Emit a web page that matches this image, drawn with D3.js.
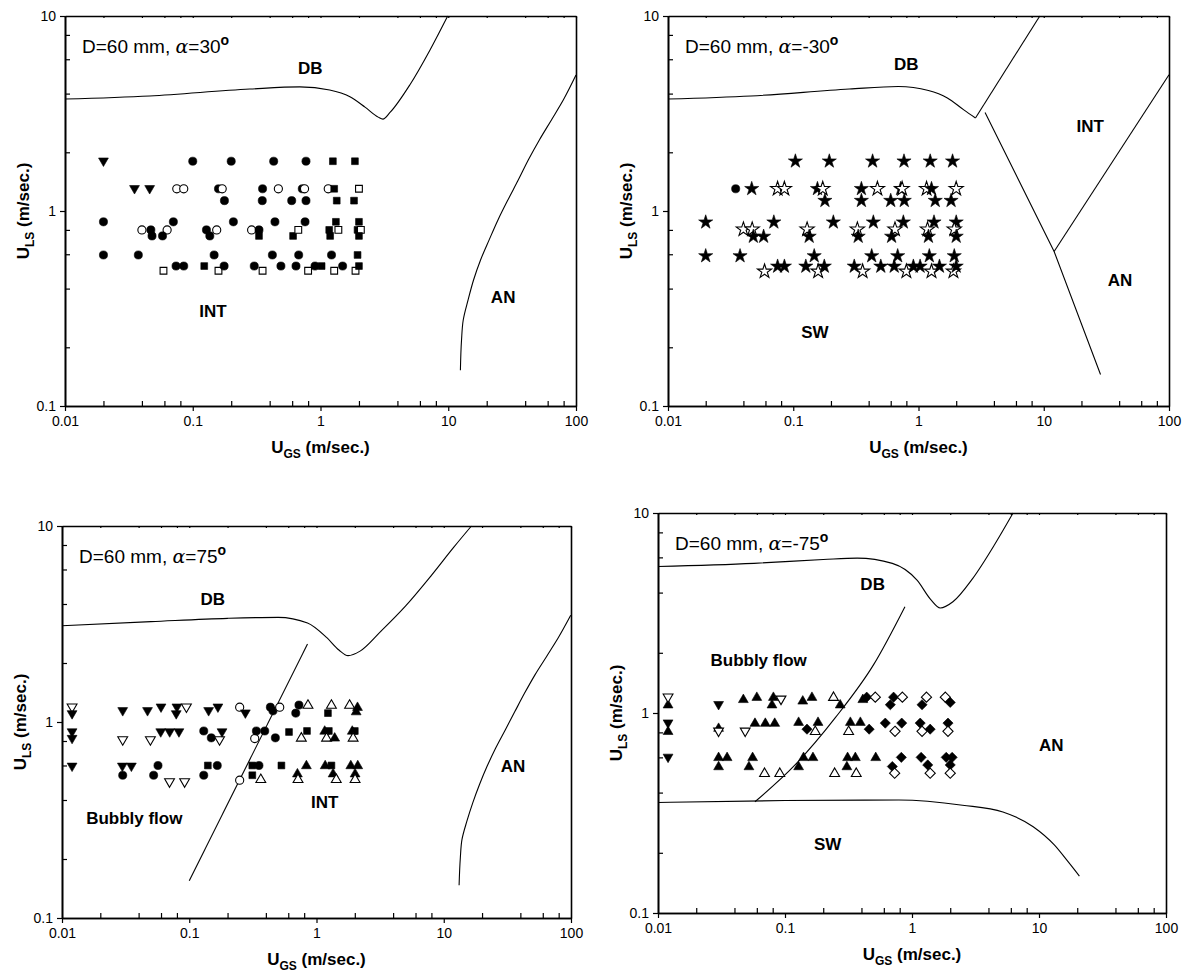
<!DOCTYPE html>
<html><head><meta charset="utf-8">
<script src="https://cdn.jsdelivr.net/npm/d3@7"></script>
<style>
body{margin:0;background:#fff}
svg{display:block}
text{font-family:"Liberation Sans",Arial,Helvetica,sans-serif;fill:#000}
</style>
</head><body>
<svg id="chart" width="1190" height="976"></svg>
<script>
// ---- axis ticks (log scales) ----
const xMajorTicks = [0.01, 0.1, 1, 10, 100];
const xMajorLabels = ["0.01", "0.1", "1", "10", "100"];
const yMajorTicks = [0.1, 1, 10];
const yMajorLabels = ["0.1", "1", "10"];
const minorMultipliers = [2, 4, 6, 8];

// ---- D = 60 mm, alpha = 30 deg ----
const a30Points = [
  [0.02,1.8,"triDown"],[0.1,1.8,"circle"],[0.2,1.8,"circle"],[0.43,1.8,"circle"],[0.77,1.8,"circle"],[1.25,1.8,"square"],[1.86,1.8,"square"],
  [0.035,1.3,"triDown"],[0.046,1.3,"triDown"],[0.075,1.3,"circleOpen"],[0.085,1.3,"circleOpen"],[0.159,1.3,"circle"],[0.17,1.3,"circleOpen"],
  [0.352,1.3,"circle"],[0.468,1.3,"circleOpen"],[0.72,1.3,"circle"],[0.75,1.3,"circleOpen"],[1.15,1.3,"circleOpen"],[1.28,1.3,"square"],[2.0,1.3,"squareOpen"],
  [0.177,1.13,"circle"],[0.35,1.13,"circle"],[0.595,1.13,"circle"],[0.77,1.13,"circle"],[1.34,1.13,"square"],[1.83,1.13,"square"],
  [0.02,0.88,"circle"],[0.0705,0.88,"circle"],[0.208,0.88,"circle"],[0.44,0.88,"circle"],[0.757,0.88,"circle"],[1.32,0.88,"square"],[2.0,0.88,"square"],
  [0.04,0.8,"circleOpen"],[0.047,0.8,"circle"],[0.063,0.8,"circleOpen"],[0.128,0.8,"circle"],[0.154,0.8,"circleOpen"],[0.289,0.8,"circleOpen"],[0.33,0.8,"circle"],
  [0.61,0.745,"square"],[0.67,0.8,"squareOpen"],[1.17,0.8,"square"],[1.38,0.8,"squareOpen"],[1.95,0.8,"square"],[2.07,0.8,"squareOpen"],
  [0.048,0.745,"circle"],[0.058,0.745,"circle"],[0.136,0.745,"circle"],[0.33,0.745,"square"],[1.19,0.745,"square"],[2.0,0.745,"square"],
  [0.02,0.595,"circle"],[0.0375,0.595,"circle"],[0.147,0.595,"circle"],[0.42,0.595,"circle"],[0.675,0.595,"circle"],[1.22,0.595,"circle"],[1.95,0.595,"square"],
  [0.059,0.494,"squareOpen"],[0.159,0.494,"squareOpen"],[0.352,0.494,"squareOpen"],[0.8,0.494,"squareOpen"],[1.28,0.494,"squareOpen"],[1.88,0.494,"squareOpen"],
  [0.074,0.522,"circle"],[0.085,0.522,"circle"],[0.123,0.522,"square"],[0.176,0.522,"circle"],[0.303,0.522,"circle"],[0.49,0.522,"circle"],
  [0.643,0.522,"circle"],[0.906,0.522,"circle"],[1.02,0.522,"square"],[1.49,0.522,"circle"],[2.0,0.522,"square"]
];
const a30DB = [[0.01,3.75],[0.046,3.89],[0.28,4.22],[0.69,4.33],[1.18,4.17],[1.7,3.85],[2.23,3.41],[2.83,3.03],[3.08,2.96],[3.5,3.2],[5.0,4.43],[7.2,6.7],[9.9,10]];
const a30AN = [[100,4.98],[79.7,3.72],[64.4,2.94],[51.8,2.32],[42.4,1.83],[35.3,1.44],[29.3,1.14],[24.5,0.9],[20.9,0.711],[17.9,0.561],[15.8,0.444],[14.3,0.35],[13.1,0.276],[12.7,0.2175],[12.45,0.1526]];

// ---- D = 60 mm, alpha = -30 deg ----
const am30Points = [
  [0.104,1.8,"star"],[0.194,1.8,"star"],[0.43,1.8,"star"],[0.766,1.8,"star"],[1.24,1.8,"star"],[1.87,1.8,"star"],
  [0.0347,1.3,"circle"],[0.0466,1.3,"star"],[0.075,1.3,"starOpen"],[0.085,1.3,"starOpen"],[0.156,1.3,"star"],[0.172,1.3,"starOpen"],
  [0.35,1.3,"star"],[0.47,1.3,"starOpen"],[0.72,1.3,"star"],[0.74,1.3,"starOpen"],[1.16,1.3,"starOpen"],[1.27,1.3,"star"],[2.0,1.3,"starOpen"],
  [0.179,1.13,"star"],[0.35,1.13,"star"],[0.6,1.13,"star"],[0.77,1.13,"star"],[1.36,1.13,"star"],[1.82,1.13,"star"],
  [0.02,0.876,"star"],[0.07,0.876,"star"],[0.209,0.876,"star"],[0.436,0.876,"star"],[0.757,0.876,"star"],[1.33,0.876,"star"],[2.0,0.876,"star"],
  [0.04,0.805,"starOpen"],[0.047,0.805,"starOpen"],[0.129,0.805,"starOpen"],[0.325,0.805,"starOpen"],[0.649,0.805,"starOpen"],[1.18,0.805,"starOpen"],[1.93,0.805,"starOpen"],
  [0.048,0.74,"star"],[0.058,0.74,"star"],[0.134,0.74,"star"],[0.33,0.74,"star"],[0.61,0.74,"star"],[1.2,0.74,"star"],[2.0,0.74,"star"],
  [0.02,0.588,"star"],[0.0376,0.588,"star"],[0.147,0.588,"star"],[0.423,0.588,"star"],[0.682,0.588,"star"],[1.22,0.588,"star"],[1.93,0.588,"star"],
  [0.059,0.49,"starOpen"],[0.158,0.49,"starOpen"],[0.358,0.49,"starOpen"],[0.8,0.49,"starOpen"],[1.27,0.49,"starOpen"],[1.9,0.49,"starOpen"],
  [0.075,0.52,"star"],[0.085,0.52,"star"],[0.126,0.52,"star"],[0.177,0.52,"star"],[0.307,0.52,"star"],[0.5,0.52,"star"],
  [0.64,0.52,"star"],[0.91,0.52,"star"],[1.03,0.52,"star"],[1.47,0.52,"star"],[2.0,0.52,"star"]
];
const am30DB = [[0.01,3.75],[0.046,3.89],[0.28,4.22],[0.69,4.35],[1.2,4.15],[1.7,3.8],[2.3,3.3],[2.85,3.0]];
const am30RiseLine = [[2.85,3.0],[9.3,10]];
const am30FallLine = [[3.4,3.2],[12.1,0.62],[28.4,0.145]];
const am30ANLine = [[12.1,0.62],[100,5.0]];

// ---- D = 60 mm, alpha = 75 deg ----
const a75Points = [
  [0.012,1.19,"triDownOpen"],[0.012,1.1,"triDown"],[0.03,1.14,"triDown"],[0.047,1.14,"triDown"],[0.06,1.19,"triDown"],[0.08,1.19,"triDown"],
  [0.079,1.1,"triDown"],[0.095,1.19,"triDownOpen"],[0.142,1.14,"triDown"],[0.168,1.19,"triDown"],[0.249,1.19,"circleOpen"],[0.276,1.11,"triDown"],
  [0.434,1.19,"circle"],[0.455,1.14,"circle"],[0.514,1.19,"circleOpen"],[0.728,1.22,"circle"],[0.687,1.11,"circle"],[0.857,1.22,"triUpOpen"],
  [1.23,1.11,"square"],[1.31,1.22,"triUpOpen"],[1.82,1.22,"triUpOpen"],[2.1,1.19,"triUp"],[2.05,1.13,"triUp"],
  [0.012,0.889,"triDown"],[0.012,0.823,"triDown"],[0.03,0.81,"triDownOpen"],[0.0495,0.81,"triDownOpen"],[0.0597,0.889,"triDown"],[0.0702,0.889,"triDown"],
  [0.083,0.889,"triDown"],[0.13,0.9,"circle"],[0.149,0.83,"circle"],[0.173,0.81,"triDownOpen"],[0.181,0.889,"triDown"],[0.327,0.823,"circleOpen"],
  [0.337,0.9,"circle"],[0.392,0.9,"circle"],[0.475,0.83,"circle"],[0.608,0.889,"square"],[0.76,0.83,"triUpOpen"],[0.842,0.9,"square"],
  [1.16,0.9,"triUp"],[1.25,0.9,"square"],[1.2,0.83,"triUpOpen"],[1.39,0.83,"triUp"],[1.91,0.9,"triUp"],[2.0,0.9,"square"],[1.94,0.83,"triUpOpen"],
  [0.012,0.594,"triDown"],[0.0298,0.594,"triDown"],[0.0351,0.594,"triDown"],[0.03,0.535,"circle"],[0.0568,0.6,"circle"],[0.0525,0.535,"circle"],
  [0.07,0.494,"triDownOpen"],[0.092,0.494,"triDownOpen"],[0.13,0.535,"circle"],[0.14,0.6,"square"],[0.166,0.6,"circle"],[0.249,0.505,"circleOpen"],
  [0.313,0.6,"square"],[0.353,0.6,"circle"],[0.313,0.535,"square"],[0.365,0.51,"triUpOpen"],[0.53,0.6,"square"],[0.833,0.6,"triUp"],
  [0.708,0.545,"triUp"],[0.716,0.51,"triUpOpen"],[1.17,0.6,"triUp"],[1.31,0.6,"square"],[1.35,0.545,"triUp"],[1.43,0.51,"triUpOpen"],
  [1.86,0.6,"triUp"],[2.11,0.6,"triUp"],[2.01,0.545,"triUp"],[2.01,0.51,"triUpOpen"]
];
const a75DB = [[0.01,3.1],[0.05,3.25],[0.2,3.38],[0.5,3.42],[0.85,3.2],[1.2,2.7],[1.5,2.33],[1.77,2.18],[2.2,2.3],[3.2,2.9],[5,3.9],[8,5.6],[12,7.8],[16.5,10]];
const a75BubblyLine = [[0.1,0.155],[0.85,2.5]];
const a75AN = [[99.5,3.5],[79.2,2.68],[64.3,2.16],[52.1,1.74],[43.1,1.4],[36.2,1.13],[30.5,0.914],[25.6,0.737],[21.9,0.594],[19.1,0.48],[16.9,0.387],[15.2,0.312],[13.9,0.251],[13.5,0.203],[13.2,0.147]];

// ---- D = 60 mm, alpha = -75 deg ----
const am75Points = [
  [0.012,1.1,"triUp"],[0.012,1.2,"triDownOpen"],[0.03,1.1,"triDown"],[0.047,1.17,"triUp"],[0.06,1.2,"triUp"],[0.081,1.2,"triUp"],[0.079,1.1,"triUp"],
  [0.093,1.17,"triDownOpen"],[0.138,1.15,"triUp"],[0.163,1.2,"triUp"],[0.241,1.2,"triUpOpen"],[0.272,1.1,"triUp"],[0.41,1.17,"triUp"],
  [0.44,1.2,"diamond"],[0.514,1.2,"diamondOpen"],[0.716,1.2,"diamond"],[0.675,1.1,"diamond"],[0.84,1.2,"diamondOpen"],[1.3,1.2,"diamondOpen"],
  [1.2,1.1,"diamond"],[1.83,1.2,"diamondOpen"],[2.0,1.13,"diamond"],
  [0.012,0.89,"triDown"],[0.012,0.81,"triUp"],[0.03,0.84,"triUp"],[0.03,0.81,"triDownOpen"],[0.0486,0.81,"triDownOpen"],[0.058,0.89,"triUp"],
  [0.07,0.89,"triUp"],[0.083,0.89,"triUp"],[0.128,0.9,"triUp"],[0.149,0.83,"diamond"],[0.173,0.81,"triUpOpen"],[0.182,0.9,"triUp"],
  [0.317,0.81,"triUpOpen"],[0.327,0.9,"triUp"],[0.392,0.9,"triUp"],[0.46,0.83,"diamond"],[0.616,0.89,"diamond"],[0.735,0.81,"diamondOpen"],
  [0.83,0.89,"diamond"],[1.16,0.89,"diamond"],[1.2,0.81,"diamondOpen"],[1.39,0.83,"diamond"],[1.92,0.89,"diamond"],[1.92,0.81,"diamondOpen"],
  [0.012,0.6,"triDown"],[0.03,0.6,"triUp"],[0.035,0.6,"triUp"],[0.03,0.54,"triUp"],[0.0556,0.6,"triUp"],[0.052,0.54,"triUp"],
  [0.069,0.5,"triUpOpen"],[0.091,0.5,"triUpOpen"],[0.128,0.54,"triUp"],[0.14,0.6,"triUp"],[0.166,0.6,"triUp"],[0.246,0.5,"triUpOpen"],
  [0.307,0.54,"triUp"],[0.311,0.6,"triUp"],[0.358,0.6,"triUp"],[0.364,0.5,"triUpOpen"],[0.518,0.6,"triUp"],[0.824,0.6,"diamond"],
  [0.70,0.54,"diamond"],[0.73,0.5,"diamondOpen"],[1.18,0.6,"diamond"],[1.33,0.55,"diamond"],[1.39,0.5,"diamondOpen"],
  [1.86,0.6,"diamond"],[2.07,0.6,"diamond"],[2.0,0.55,"diamond"],[2.0,0.5,"diamondOpen"]
];
const am75DB = [[0.01,5.4],[0.057,5.6],[0.2,5.85],[0.37,5.95],[0.7,5.6],[1.1,4.6],[1.4,3.7],[1.67,3.35],[2.1,3.6],[3,4.7],[4.5,7.0],[6.25,10]];
const am75BubblyLine = [[0.058,0.36],[0.12,0.55],[0.25,0.95],[0.5,1.75],[0.88,3.4]];
const am75SW = [[0.01,0.357],[0.1,0.365],[0.79,0.367],[2.5,0.346],[5.2,0.32],[9,0.27],[13.2,0.219],[17,0.18],[20.8,0.153]];

// ---- layout ----
const panels = [
  {x0:65, x1:576, y0:16, y1:406, angle:"30", points:a30Points,
   lines:[{d:a30DB,curve:"x"},{d:a30AN,curve:"y"}],
   labels:[["DB",0.83,5.4],["INT",0.144,0.306],["AN",26.9,0.36]]},
  {x0:668, x1:1169, y0:16, y1:406, angle:"-30", points:am30Points,
   lines:[{d:am30DB,curve:"x"},{d:am30RiseLine},{d:am30FallLine},{d:am30ANLine}],
   labels:[["DB",0.8,5.67],["INT",23.5,2.7],["AN",40.7,0.44],["SW",0.149,0.237]]},
  {x0:62, x1:571, y0:526, y1:918, angle:"75", points:a75Points,
   lines:[{d:a75DB,curve:"x"},{d:a75BubblyLine},{d:a75AN,curve:"y"}],
   labels:[["DB",0.153,4.2],["Bubbly flow",0.037,0.32],["INT",1.16,0.39],["AN",35,0.59]]},
  {x0:658, x1:1166, y0:513, y1:913, angle:"-75", points:am75Points,
   lines:[{d:am75DB,curve:"x"},{d:am75BubblyLine,curve:"x"},{d:am75SW,curve:"x"}],
   labels:[["DB",0.49,4.4],["Bubbly flow",0.062,1.84],["AN",12.5,0.69],["SW",0.217,0.219]]}
];

// marker shapes
const triUpType = {draw(ctx, size){ const h=Math.sqrt(size)*1.2; ctx.moveTo(0,-h*0.62); ctx.lineTo(h*0.58,h*0.38); ctx.lineTo(-h*0.58,h*0.38); ctx.closePath(); }};
const triDownType = {draw(ctx, size){ const h=Math.sqrt(size)*1.2; ctx.moveTo(0,h*0.62); ctx.lineTo(h*0.58,-h*0.38); ctx.lineTo(-h*0.58,-h*0.38); ctx.closePath(); }};
const diamondType = {draw(ctx, size){ const r=Math.sqrt(size)*0.72; ctx.moveTo(0,-r); ctx.lineTo(r,0); ctx.lineTo(0,r); ctx.lineTo(-r,0); ctx.closePath(); }};
const markerStyle = {
  circle:{type:d3.symbolCircle,size:52,open:false},
  circleOpen:{type:d3.symbolCircle,size:52,open:true},
  square:{type:d3.symbolSquare,size:46,open:false},
  squareOpen:{type:d3.symbolSquare,size:46,open:true},
  triUp:{type:triUpType,size:50,open:false},
  triUpOpen:{type:triUpType,size:50,open:true},
  triDown:{type:triDownType,size:50,open:false},
  triDownOpen:{type:triDownType,size:50,open:true},
  star:{type:d3.symbolStar,size:62,open:false},
  starOpen:{type:d3.symbolStar,size:62,open:true},
  diamond:{type:diamondType,size:50,open:false},
  diamondOpen:{type:diamondType,size:50,open:true}
};

const svg = d3.select("#chart");
const tickFont = 14;

function minorTicks(lo, hi){
  const out=[];
  for(let d=lo; d<hi*0.999; d*=10) minorMultipliers.forEach(m=>out.push(d*m));
  return out;
}

panels.forEach(p=>{
  const x = d3.scaleLog().domain([0.01,100]).range([p.x0,p.x1]);
  const y = d3.scaleLog().domain([0.1,10]).range([p.y1,p.y0]);
  const g = svg.append("g");

  // curves and boundary lines
  p.lines.forEach(l=>{
    const gen = d3.line().x(d=>x(d[0])).y(d=>y(d[1]));
    if(l.curve==="x") gen.curve(d3.curveMonotoneX);
    if(l.curve==="y") gen.curve(d3.curveMonotoneY);
    g.append("path").attr("d",gen(l.d)).attr("fill","none").attr("stroke","#000").attr("stroke-width",1.1);
  });

  // data markers
  p.points.forEach(d=>{
    const st = markerStyle[d[2]];
    g.append("path")
      .attr("d", d3.symbol().type(st.type).size(st.size)())
      .attr("transform",`translate(${x(d[0])},${y(d[1])})`)
      .attr("fill", st.open ? "#fff" : "#000")
      .attr("stroke","#000").attr("stroke-width", st.open ? 1.1 : 0.6);
  });

  // axes
  g.append("g").attr("transform",`translate(0,${p.y1})`)
    .call(d3.axisBottom(x).tickValues(xMajorTicks).tickFormat((d,i)=>xMajorLabels[i]).tickSize(5).tickPadding(5).tickSizeOuter(0));
  g.append("g").attr("transform",`translate(0,${p.y1})`)
    .call(d3.axisBottom(x).tickValues(minorTicks(0.01,100)).tickFormat("").tickSize(-5).tickSizeOuter(0));
  g.append("g").attr("transform",`translate(${p.x0},0)`)
    .call(d3.axisLeft(y).tickValues(yMajorTicks).tickFormat((d,i)=>yMajorLabels[i]).tickSize(5).tickPadding(4).tickSizeOuter(0));
  g.append("g").attr("transform",`translate(${p.x0},0)`)
    .call(d3.axisLeft(y).tickValues(minorTicks(0.1,10)).tickFormat("").tickSize(-5).tickSizeOuter(0));
  g.append("g").attr("transform",`translate(0,${p.y0})`)
    .call(d3.axisTop(x).tickValues(minorTicks(0.01,100).concat(xMajorTicks)).tickFormat("").tickSize(-2).tickSizeOuter(0));
  g.append("g").attr("transform",`translate(${p.x1},0)`)
    .call(d3.axisRight(y).tickValues([]).tickSizeOuter(0));
  g.selectAll(".domain").attr("stroke","#000").attr("stroke-width",1.6);
  g.selectAll(".tick line").attr("stroke","#000").attr("stroke-width",1.2);
  g.selectAll(".tick text").attr("font-size",tickFont).attr("font-family",'"Liberation Sans",Arial,sans-serif');

  // region labels
  p.labels.forEach(l=>{
    g.append("text").attr("x",x(l[1])).attr("y",y(l[2])).attr("text-anchor","middle").attr("dominant-baseline","central")
      .attr("font-size",17).attr("font-weight","bold").text(l[0]);
  });

  // condition note
  const note = g.append("text").attr("x",p.x0+17).attr("y",p.y0+37).attr("font-size",19);
  note.append("tspan").text("D=60 mm, ");
  note.append("tspan").attr("font-family","DejaVu Serif, serif").attr("font-style","italic").text("α");
  note.append("tspan").text("=" + p.angle);
  note.append("tspan").attr("dy",-8).attr("font-size",14).attr("font-weight","bold").text("o");

  // axis titles
  const cx = (p.x0+p.x1)/2, cy = (p.y0+p.y1)/2;
  const xt = g.append("text").attr("x",cx).attr("y",p.y1+47).attr("text-anchor","middle").attr("font-size",17).attr("font-weight","bold");
  xt.append("tspan").text("U");
  xt.append("tspan").attr("dy",5).attr("font-size",12).text("GS");
  xt.append("tspan").attr("dy",-5).text(" (m/sec.)");
  const yt = g.append("text").attr("transform",`translate(${p.x0-36},${cy}) rotate(-90)`).attr("text-anchor","middle").attr("font-size",17).attr("font-weight","bold");
  yt.append("tspan").text("U");
  yt.append("tspan").attr("dy",5).attr("font-size",12).text("LS");
  yt.append("tspan").attr("dy",-5).text(" (m/sec.)");
});
</script>
</body></html>
